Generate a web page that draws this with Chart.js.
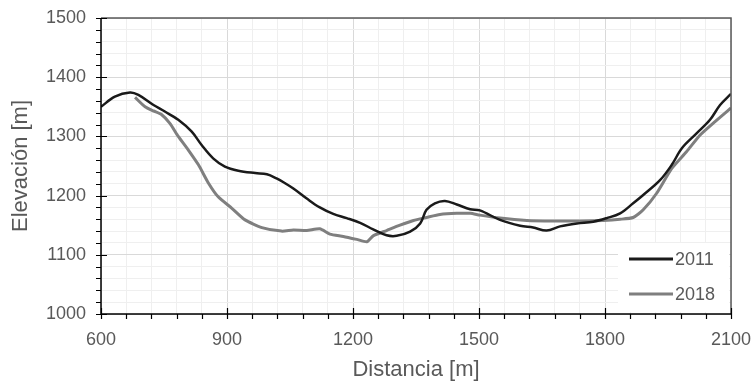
<!DOCTYPE html>
<html>
<head>
<meta charset="utf-8">
<script src="https://cdn.jsdelivr.net/npm/chart.js@4.4.1/dist/chart.umd.min.js"></script>
<style>
  html, body { margin: 0; padding: 0; background: #fff; }
  #wrap { width: 756px; height: 383px; }
</style>
</head>
<body>
<div id="wrap"><canvas id="perfil" width="756" height="383"></canvas></div>
<script>
// perfil 2011
const dist2011 = [600, 633, 669, 689, 725, 752, 784, 816, 840, 867, 895, 927, 967, 995, 1018, 1038, 1058, 1090, 1121, 1153, 1185, 1217, 1248, 1280, 1304, 1336, 1360, 1375, 1395, 1419, 1447, 1479, 1502, 1550, 1598, 1629, 1661, 1693, 1733, 1772, 1804, 1836, 1867, 1891, 1931, 1959, 1983, 2018, 2050, 2074, 2100];
const elev2011 = [1350, 1367, 1374, 1370, 1353, 1342, 1328, 1308, 1285, 1263, 1249, 1242, 1238, 1236, 1229, 1221, 1212, 1195, 1180, 1169, 1162, 1154, 1143, 1133, 1132, 1139, 1153, 1176, 1187, 1191, 1185, 1177, 1175, 1159, 1149, 1146, 1141, 1148, 1153, 1156, 1162, 1170, 1187, 1201, 1226, 1252, 1280, 1305, 1328, 1353, 1372];

// perfil 2018
const dist2018 = [681, 705, 725, 744, 764, 784, 808, 832, 856, 879, 911, 943, 983, 1030, 1058, 1090, 1121, 1145, 1177, 1209, 1233, 1248, 1280, 1312, 1344, 1375, 1407, 1447, 1479, 1502, 1550, 1614, 1677, 1741, 1796, 1836, 1867, 1891, 1923, 1959, 1994, 2026, 2062, 2100];
const elev2018 = [1366, 1350, 1343, 1337, 1322, 1300, 1277, 1252, 1221, 1198, 1179, 1159, 1146, 1140, 1142, 1141, 1144, 1135, 1131, 1126, 1122, 1132, 1141, 1150, 1158, 1163, 1168, 1170, 1170, 1167, 1162, 1158, 1157, 1157, 1158, 1160, 1163, 1176, 1204, 1246, 1274, 1302, 1325, 1348];

const xMin = 600, xMax = 2100, xMajor = 300, xMinor = 60;
const yMin = 1000, yMax = 1500, yMajor = 100, yMinor = 20;

const textColor = '#595959';
const fontFamily = '"Liberation Sans", Arial, sans-serif';

function toPoints(xs, ys) {
    return xs.map((x, i) => ({ x: x, y: ys[i] }));
}

// marco, marcas de eje y leyenda dentro del area
const frameAndLegend = {
    id: 'frameAndLegend',
    afterDraw(chart) {
        const { ctx, chartArea: a, scales } = chart;
        ctx.save();

        // marco
        ctx.strokeStyle = '#595959';
        ctx.lineWidth = 1.5;
        ctx.beginPath();
        ctx.moveTo(a.left, a.top);
        ctx.lineTo(a.right, a.top);
        ctx.lineTo(a.right, a.bottom);
        ctx.stroke();

        ctx.strokeStyle = '#000';
        ctx.beginPath();
        ctx.moveTo(a.left, a.top);
        ctx.lineTo(a.left, a.bottom);
        ctx.lineTo(a.right, a.bottom);
        ctx.stroke();

        // marcas
        ctx.lineWidth = 1.2;
        ctx.beginPath();
        for (let v = yMin; v <= yMax; v += yMinor) {
            const py = Math.round(scales.y.getPixelForValue(v)) + 0.5;
            const major = v % yMajor === 0;
            ctx.moveTo(a.left - 5, py);
            ctx.lineTo(a.left + (major ? 6 : 0), py);
        }
        for (let v = xMin; v <= xMax; v += xMinor) {
            const px = Math.round(scales.x.getPixelForValue(v)) + 0.5;
            const major = v % xMajor === 0;
            ctx.moveTo(px, a.bottom + 5);
            ctx.lineTo(px, a.bottom - (major ? 6 : 0));
        }
        ctx.stroke();

        // leyenda
        const bx = a.right - 113, by = 243, bw = 111, bh = a.bottom - 2 - 243;
        ctx.fillStyle = '#fff';
        ctx.fillRect(bx, by, bw, bh);
        ctx.font = '18px ' + fontFamily;
        ctx.textBaseline = 'middle';
        const rows = [259, 294];
        chart.data.datasets.forEach((ds, i) => {
            ctx.strokeStyle = ds.borderColor;
            ctx.lineWidth = 3;
            ctx.beginPath();
            ctx.moveTo(a.right - 102, rows[i]);
            ctx.lineTo(a.right - 58, rows[i]);
            ctx.stroke();
            ctx.fillStyle = textColor;
            ctx.fillText(ds.label, a.right - 56, rows[i] + 1);
        });
        ctx.restore();
    }
};

new Chart(document.getElementById('perfil').getContext('2d'), {
    type: 'line',
    data: {
        datasets: [
            {
                label: '2011',
                data: toPoints(dist2011, elev2011),
                borderColor: '#1a1a1a',
                borderWidth: 2.5,
                tension: 0.35,
                pointRadius: 0,
            },
            {
                label: '2018',
                data: toPoints(dist2018, elev2018),
                borderColor: '#7f7f7f',
                borderWidth: 3,
                tension: 0.2,
                pointRadius: 0,
            },
        ],
    },
    options: {
        responsive: false,
        animation: false,
        layout: { padding: { top: 18, right: 25, left: 0, bottom: 0 } },
        plugins: { legend: { display: false }, tooltip: { enabled: false } },
        scales: {
            x: {
                type: 'linear',
                min: xMin,
                max: xMax,
                afterFit: (s) => {
                    s.height = 69;
                    s.paddingLeft = 0;
                    s.paddingRight = 0;
                },
                afterBuildTicks: (s) => {
                    s.ticks = [];
                    for (let v = xMin; v <= xMax; v += xMinor) s.ticks.push({ value: v });
                },
                border: { display: false },
                grid: {
                    drawTicks: false,
                    color: (c) => (c.tick && c.tick.value % xMajor === 0 ? '#d9d9d9' : '#efefef'),
                },
                ticks: {
                    autoSkip: false,
                    maxRotation: 0,
                    padding: 15,
                    color: textColor,
                    font: { family: fontFamily, size: 18 },
                    callback: (v) => (v % xMajor === 0 ? v : ''),
                },
                title: {
                    display: true,
                    text: 'Distancia [m]',
                    color: textColor,
                    font: { family: fontFamily, size: 22 },
                    padding: { top: 0, bottom: 0 },
                },
            },
            y: {
                min: yMin,
                max: yMax,
                afterFit: (s) => {
                    s.width = 101;
                    s.paddingTop = 0;
                    s.paddingBottom = 0;
                },
                afterBuildTicks: (s) => {
                    s.ticks = [];
                    for (let v = yMin; v <= yMax; v += yMinor) s.ticks.push({ value: v });
                },
                border: { display: false },
                grid: {
                    drawTicks: false,
                    color: (c) => (c.tick && c.tick.value % yMajor === 0 ? '#d9d9d9' : '#efefef'),
                },
                ticks: {
                    autoSkip: false,
                    padding: 15,
                    color: textColor,
                    font: { family: fontFamily, size: 18 },
                    callback: (v) => (v % yMajor === 0 ? v : ''),
                },
                title: {
                    display: true,
                    text: 'Elevación [m]',
                    color: textColor,
                    font: { family: fontFamily, size: 22 },
                    padding: { top: 8, bottom: 0 },
                },
            },
        },
    },
    plugins: [frameAndLegend],
});
</script>
</body>
</html>
